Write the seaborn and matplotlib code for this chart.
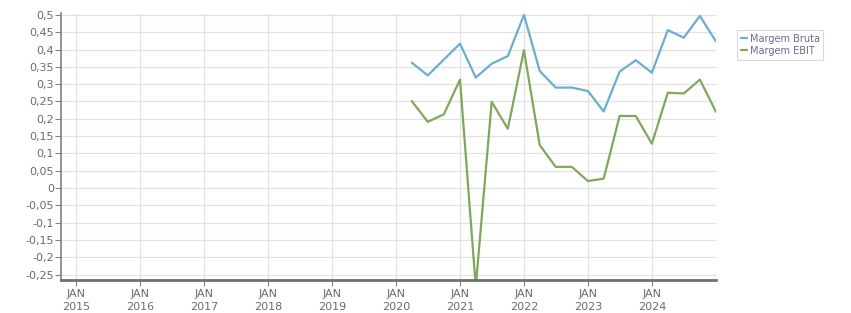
import matplotlib
matplotlib.use("Agg")
import matplotlib.pyplot as plt
import matplotlib.dates as mdates
import matplotlib.ticker as mticker
import numpy as np
import pandas as pd
import seaborn as sns
from matplotlib.lines import Line2D

dates = ["2020-04-01", "2020-07-01", "2020-10-01", "2021-01-01",
         "2021-04-01", "2021-07-01", "2021-10-01", "2022-01-01",
         "2022-04-01", "2022-07-01", "2022-10-01", "2023-01-01",
         "2023-04-01", "2023-07-01", "2023-10-01", "2024-01-01",
         "2024-04-01", "2024-07-01", "2024-10-01", "2025-01-01"]
margem_bruta = [0.362, 0.325, 0.371, 0.417, 0.319, 0.359, 0.381, 0.500,
                0.338, 0.290, 0.290, 0.280, 0.221, 0.336, 0.369, 0.333,
                0.456, 0.434, 0.497, 0.423]
margem_ebit = [0.251, 0.191, 0.213, 0.313, -0.285, 0.249, 0.171, 0.398,
               0.124, 0.061, 0.061, 0.020, 0.027, 0.208, 0.208, 0.128,
               0.275, 0.273, 0.313, 0.220]
series_names = ["Margem Bruta", "Margem EBIT"]
colors = ["#6aaed3", "#7fa85c"]
y_ticks = [0.5, 0.45, 0.4, 0.35, 0.3, 0.25, 0.2, 0.15, 0.1, 0.05, 0,
           -0.05, -0.1, -0.15, -0.2, -0.25]
years = list(range(2015, 2025))

df = pd.DataFrame({
    "date": pd.to_datetime(dates * 2),
    "value": margem_bruta + margem_ebit,
    "serie": [series_names[0]] * len(dates) + [series_names[1]] * len(dates),
})

sns.set_style("white")
plt.rcParams["font.family"] = ["DejaVu Sans"]

fig = plt.figure(figsize=(8.51, 3.13), dpi=100)
ax = fig.add_axes([61 / 851, 1 - 279.5 / 313, (716 - 61) / 851, (279.5 - 13.5) / 313])

sns.lineplot(data=df, x="date", y="value", hue="serie", palette=colors,
             linewidth=1.6, ax=ax, legend=False)

ax.set_xlim(pd.Timestamp("2014-10-08"), pd.Timestamp("2025-01-01"))
ax.set_ylim(-0.2644, 0.504)

ax.yaxis.set_major_locator(mticker.FixedLocator(y_ticks))
ax.yaxis.set_major_formatter(mticker.FuncFormatter(
    lambda v, p: ("%g" % round(v, 2)).replace(".", ",")))
ax.xaxis.set_major_locator(mticker.FixedLocator(
    [mdates.date2num(pd.Timestamp(f"{y}-01-01")) for y in years]))
ax.xaxis.set_major_formatter(mticker.FuncFormatter(
    lambda v, p: "JAN\n" + str(mdates.num2date(v).year)))

ax.grid(True, color="#e2e2e2", linewidth=0.9)
ax.set_axisbelow(True)
for s in ["top", "right"]:
    ax.spines[s].set_visible(False)
ax.spines["left"].set_color("#808080")
ax.spines["left"].set_linewidth(1.2)
ax.spines["bottom"].set_color("#707070")
ax.spines["bottom"].set_linewidth(2.0)
ax.tick_params(axis="both", which="major", direction="out", length=4,
               width=0.8, color="#808080", labelcolor="#6b6b6b", labelsize=8,
               left=True, bottom=True)
ax.tick_params(axis="y", pad=1)
ax.tick_params(axis="x", pad=3)
for t in ax.get_xticklabels():
    t.set_linespacing(1.35)
ax.set_xlabel("")
ax.set_ylabel("")

handles = [Line2D([0], [0], color=c, linewidth=1.6) for c in colors]
leg = fig.legend(handles, series_names, loc="upper left",
                 bbox_to_anchor=(732 / 851, 1 - 25 / 313), fontsize=7,
                 handlelength=0.6, handletextpad=0.3, borderpad=0.4,
                 labelspacing=0.2, frameon=True, fancybox=False,
                 framealpha=1, edgecolor="#d8d8d8", labelcolor="#6b6b8a")
leg.get_frame().set_linewidth(0.8)

fig.savefig("out.png", dpi=100)
